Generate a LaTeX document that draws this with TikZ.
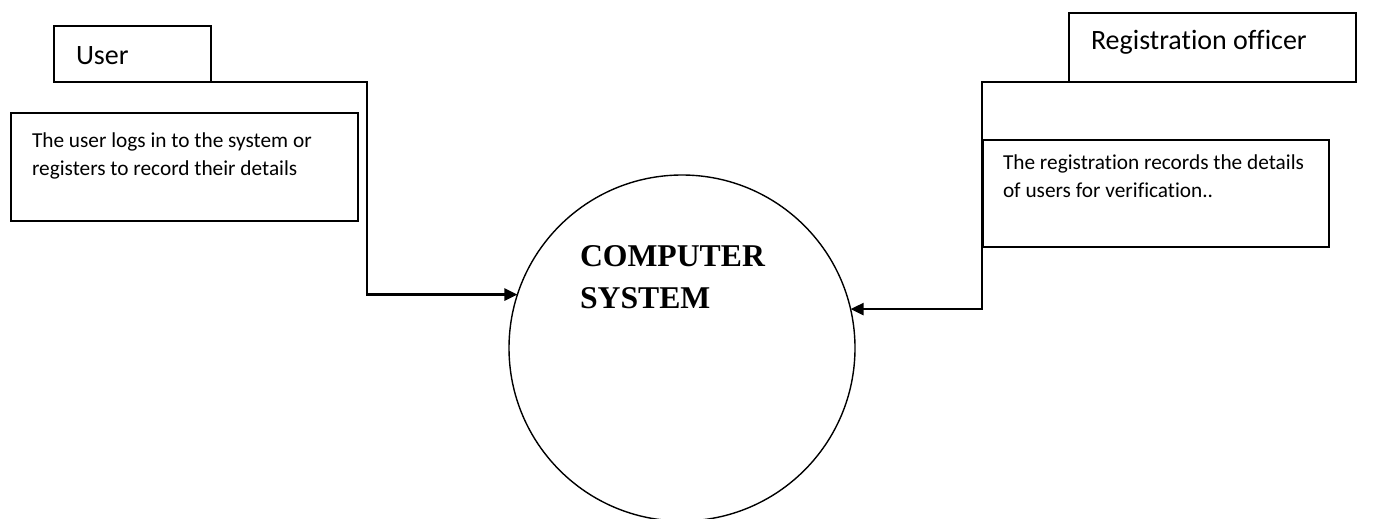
\documentclass[tikz,border=0pt]{standalone}
\usepackage{fontspec}
\setmainfont{Carlito}[Ligatures=NoCommon]
\newfontfamily\serifbold{Liberation Serif}
\usetikzlibrary{arrows.meta}

\tikzset{
  entitybox/.style={draw, line width=1.4pt, inner sep=0pt, outer sep=0pt, anchor=north west},
  notebox/.style={draw, line width=1.4pt, inner sep=0pt, outer sep=0pt, anchor=north west},
  labeltext/.style={inner sep=0pt, outer sep=0pt, anchor=north west, align=left},
  titlefont/.style={font=\fontsize{28}{32}\selectfont},
  notefont/.style={font=\fontsize{21.3}{28}\selectfont},
  process/.style={draw, circle, line width=1.4pt, inner sep=0pt, outer sep=0pt, minimum size=346pt},
  flow/.style={line width=2.4pt, -{Triangle[length=13pt,width=12pt]}},
}

\begin{document}
\begin{tikzpicture}[x=1pt, y=-1pt]
  \useasboundingbox (0,0) rectangle (1379,519);

  % external entities
  \node[entitybox, minimum width=157pt, minimum height=56pt] (userbox) at (54,26) {};
  \node[labeltext, anchor=base west, titlefont] (usertext) at (76,65) {User};

  \node[entitybox, minimum width=287pt, minimum height=69pt] (regbox) at (1069,13) {};
  \node[labeltext, anchor=base west, titlefont] (regtext) at (1091,50) {Registration officer};

  % notes describing each flow
  \node[notebox, minimum width=347pt, minimum height=108pt] (usernote) at (11,113) {};
  \node[labeltext, notefont] (usernotetext) at (32,133)
    {The user logs in to the system or\\registers to record their details};

  \node[notebox, minimum width=346pt, minimum height=107pt] (regnote) at (983,140) {};
  \node[labeltext, notefont] (regnotetext) at (1003,155)
    {The registration records the details\\of users for verification..};

  % the process
  \node[process] (sys) at (682,348) {};
  \node[labeltext, font=\serifbold\bfseries\fontsize{31.7}{41.5}\selectfont] (systext) at (580,246)
    {COMPUTER\\SYSTEM};

  % data flows
  \coordinate (ubend) at (367,82);
  \draw[flow] (userbox.south east) -- (ubend) |- (sys.162.9);

  \coordinate (rstart) at (1113,82);
  \coordinate (rbend) at (982,82);
  \draw[flow] (rstart) -- (rbend) |- (sys.13.7);
\end{tikzpicture}
\end{document}
